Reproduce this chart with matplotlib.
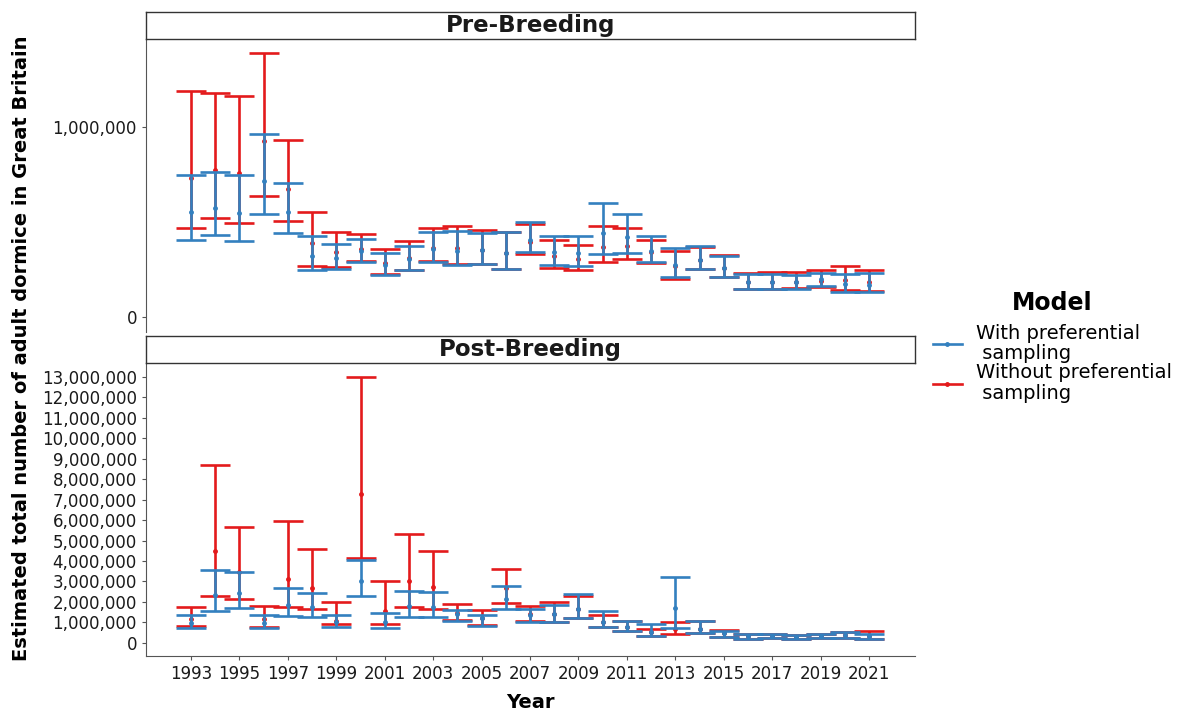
import matplotlib
matplotlib.use("Agg")
import matplotlib.pyplot as plt
import numpy as np
from matplotlib.ticker import FuncFormatter, FixedLocator
from matplotlib.lines import Line2D

years = list(range(1993, 2022))

# Pre-breeding (millions)
pre_with_lo = [0.407, 0.430, 0.402, 0.540, 0.441, 0.248, 0.255, 0.288, 0.224, 0.248, 0.288, 0.276, 0.281, 0.254, 0.341,
               0.272, 0.269, 0.332, 0.336, 0.288, 0.210, 0.252, 0.212, 0.148, 0.150, 0.147, 0.166, 0.133, 0.133]
pre_with_mean = [0.551, 0.572, 0.549, 0.715, 0.552, 0.323, 0.309, 0.348, 0.274, 0.306, 0.357, 0.349, 0.353, 0.337, 0.406,
                 0.343, 0.339, 0.441, 0.423, 0.350, 0.276, 0.302, 0.260, 0.184, 0.185, 0.187, 0.201, 0.173, 0.171]
pre_with_hi = [0.747, 0.761, 0.748, 0.960, 0.703, 0.425, 0.383, 0.409, 0.339, 0.376, 0.446, 0.453, 0.442, 0.449, 0.500,
               0.428, 0.426, 0.600, 0.544, 0.428, 0.364, 0.374, 0.320, 0.227, 0.229, 0.222, 0.232, 0.229, 0.234]
pre_without_lo = [0.467, 0.519, 0.496, 0.636, 0.503, 0.271, 0.264, 0.297, 0.227, 0.250, 0.295, 0.280, 0.281, 0.252, 0.332,
                  0.260, 0.248, 0.292, 0.306, 0.283, 0.203, 0.252, 0.209, 0.150, 0.150, 0.152, 0.159, 0.145, 0.138]
pre_without_mean = [0.733, 0.773, 0.759, 0.923, 0.675, 0.392, 0.341, 0.358, 0.285, 0.309, 0.365, 0.362, 0.353, 0.337, 0.397,
                    0.323, 0.308, 0.369, 0.376, 0.345, 0.271, 0.302, 0.260, 0.184, 0.185, 0.187, 0.192, 0.194, 0.184]
pre_without_hi = [1.187, 1.178, 1.163, 1.388, 0.930, 0.552, 0.448, 0.439, 0.360, 0.399, 0.468, 0.481, 0.458, 0.450, 0.488,
                  0.404, 0.381, 0.477, 0.470, 0.407, 0.346, 0.367, 0.327, 0.232, 0.236, 0.239, 0.250, 0.267, 0.248]

# Post-breeding (millions)
post_with_lo = [0.73, 1.54, 1.68, 0.74, 1.29, 1.24, 0.75, 2.29, 0.70, 1.26, 1.24, 1.04, 0.82, 1.66, 1.01,
                1.00, 1.19, 0.75, 0.59, 0.33, 0.72, 0.48, 0.29, 0.20, 0.21, 0.20, 0.23, 0.21, 0.18]
post_with_mean = [0.98, 2.34, 2.42, 0.97, 1.86, 1.73, 1.02, 3.04, 1.00, 1.78, 1.73, 1.42, 1.19, 2.12, 1.36,
                  1.40, 1.66, 1.03, 0.78, 0.51, 1.70, 0.69, 0.46, 0.31, 0.32, 0.29, 0.33, 0.38, 0.31]
post_with_hi = [1.34, 3.58, 3.48, 1.37, 2.68, 2.44, 1.37, 4.05, 1.46, 2.54, 2.46, 1.62, 1.37, 2.77, 1.63,
                1.86, 2.40, 1.57, 1.04, 0.90, 3.21, 1.06, 0.57, 0.44, 0.44, 0.38, 0.44, 0.54, 0.41]
post_without_lo = [0.80, 2.29, 2.14, 0.76, 1.73, 1.64, 0.92, 4.13, 0.90, 1.75, 1.66, 1.11, 0.86, 1.96, 1.06,
                   1.00, 1.19, 0.78, 0.59, 0.33, 0.44, 0.48, 0.29, 0.20, 0.21, 0.20, 0.23, 0.21, 0.18]
post_without_mean = [1.16, 4.48, 3.45, 1.14, 3.12, 2.70, 1.08, 7.26, 1.57, 3.01, 2.71, 1.44, 1.19, 2.66, 1.39,
                     1.40, 1.66, 1.03, 0.78, 0.51, 0.67, 0.69, 0.46, 0.31, 0.32, 0.29, 0.33, 0.38, 0.31]
post_without_hi = [1.75, 8.70, 5.66, 1.80, 5.95, 4.58, 2.00, 13.02, 3.04, 5.30, 4.50, 1.89, 1.60, 3.61, 1.79,
                   2.01, 2.27, 1.35, 1.04, 0.67, 1.00, 1.06, 0.62, 0.44, 0.44, 0.38, 0.44, 0.54, 0.59]

panel_titles = ["Pre-Breeding", "Post-Breeding"]
series_labels = ["With preferential\n sampling", "Without preferential\n sampling"]
x_tick_years = list(range(1993, 2022, 2))
pre_yticks = [0, 1_000_000]
post_yticks = list(range(0, 13_000_001, 1_000_000))

BLUE = "#3380BF"
RED = "#E31A1C"

W, H = 1179, 713
fig = plt.figure(figsize=(W / 100, H / 100), dpi=100)
fig.patch.set_facecolor("white")

def ax_rect(x0, y0, x1, y1):
    return [x0 / W, 1 - y1 / H, (x1 - x0) / W, (y1 - y0) / H]

X0, X1 = 146, 915
ax_top = fig.add_axes(ax_rect(X0, 39, X1, 331.7))
ax_bot = fig.add_axes(ax_rect(X0, 363.3, X1, 656))
strip_top = fig.add_axes(ax_rect(X0, 12.3, X1, 39))
strip_bot = fig.add_axes(ax_rect(X0, 336, X1, 363.3))

for s, t in zip([strip_top, strip_bot], panel_titles):
    s.set_xticks([]); s.set_yticks([])
    s.set_facecolor("white")
    for sp in s.spines.values():
        sp.set_edgecolor("#333333"); sp.set_linewidth(1.0)
    s.text(0.5, 0.5, t, ha="center", va="center", fontsize=16.5, fontweight="bold",
           color="#1a1a1a", transform=s.transAxes)

def draw(ax, lo, mean, hi, color, z):
    yrs = np.array(years, dtype=float)
    lo = np.array(lo) * 1e6; mean = np.array(mean) * 1e6; hi = np.array(hi) * 1e6
    ax.errorbar(yrs, mean, yerr=[mean - lo, hi - mean], fmt="o", color=color, ecolor=color,
                markersize=2.5, elinewidth=1.9, capsize=11, capthick=1.9, zorder=z)

draw(ax_top, pre_without_lo, pre_without_mean, pre_without_hi, RED, 2)
draw(ax_top, pre_with_lo, pre_with_mean, pre_with_hi, BLUE, 3)
draw(ax_bot, post_without_lo, post_without_mean, post_without_hi, RED, 2)
draw(ax_bot, post_with_lo, post_with_mean, post_with_hi, BLUE, 3)

fmt = FuncFormatter(lambda v, p: f"{int(round(v)):,}")
for ax in (ax_top, ax_bot):
    ax.set_xlim(1991.14, 2022.9)
    ax.spines["top"].set_visible(False)
    ax.spines["right"].set_visible(False)
    ax.spines["left"].set_color("#555555")
    ax.spines["bottom"].set_color("#555555")
    ax.yaxis.set_major_formatter(fmt)
    ax.tick_params(axis="y", labelsize=12, colors="#555555", labelcolor="#1a1a1a", length=3)
    ax.tick_params(axis="x", labelsize=12, colors="#555555", labelcolor="#1a1a1a", length=3)

ax_top.set_ylim(-0.0756e6, 1.460e6)
ax_top.yaxis.set_major_locator(FixedLocator(pre_yticks))
ax_top.spines["bottom"].set_visible(False)
ax_top.set_xticks([])

ax_bot.set_ylim(-0.65e6, 13.67e6)
ax_bot.yaxis.set_major_locator(FixedLocator(post_yticks))
ax_bot.set_xticks(x_tick_years)
ax_bot.set_xticklabels([str(y) for y in x_tick_years])

fig.text(530 / W, 1 - 703 / H, "Year", ha="center", va="center", fontsize=14, fontweight="bold")
fig.text(22 / W, 1 - 348 / H, "Estimated total number of adult dormice in Great Britain",
         ha="center", va="center", rotation=90, fontsize=14, fontweight="bold")

handles = [Line2D([0], [0], color=BLUE, lw=1.9, marker="o", markersize=2.5),
           Line2D([0], [0], color=RED, lw=1.9, marker="o", markersize=2.5)]
leg = fig.legend(handles, series_labels, title="Model", loc="center left",
                 bbox_to_anchor=(915 / W, 1 - 347 / H), frameon=False, fontsize=14,
                 title_fontproperties={"size": 17, "weight": "bold"},
                 handlelength=1.5, handletextpad=0.75, labelspacing=0.0)
for t in leg.get_texts():
    t.set_linespacing(1.1)
leg._legend_box.sep = 6

fig.savefig("out.png", dpi=100, facecolor="white")
